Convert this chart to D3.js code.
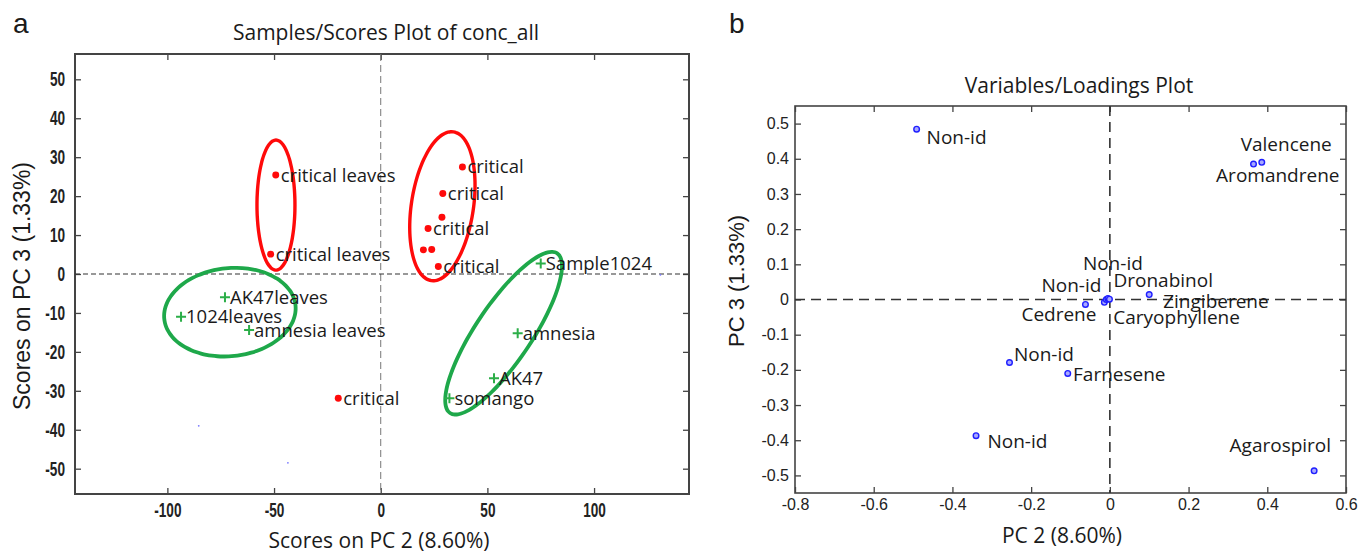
<!DOCTYPE html>
<html>
<head>
<meta charset="utf-8">
<script src="https://cdn.jsdelivr.net/npm/d3@7"></script>
<style>
  body { margin: 0; background: #fff; }
  svg { display: block; }
  .lbl { font-family: "Open Sans", sans-serif; fill: #1a1a1a; }
  .ttl { font-family: "Open Sans", sans-serif; fill: #1a1a1a; font-size: 21px; }
  .ytl { font-family: "Liberation Sans", Arial, sans-serif; fill: #1a1a1a; }
  .axA text { font-family: "Liberation Sans Narrow", "Arial Narrow", sans-serif; font-weight: bold; font-size: 20px; fill: #222; }
  .axB text { font-family: "Liberation Sans", Arial, sans-serif; font-size: 16px; fill: #222; }
</style>
</head>
<body>
<script>
// ---- panel a : scores ----
const scoreLabels = ['critical leaves', 'critical leaves', 'critical', 'critical', '', 'critical', '', '', 'critical', 'critical',
  'Sample1024', 'AK47leaves', '1024leaves', 'amnesia leaves', 'amnesia', 'AK47', 'somango']
const scorePC2 = [-49.2, -51.6, 38.3, 29.1, 28.7, 22.2, 20.0, 23.9, 27.0, -19.9,
  75.0, -73.0, -93.6, -61.7, 64.2, 53.1, 32.2]
const scorePC3 = [25.4, 5.1, 27.5, 20.7, 14.6, 11.7, 6.2, 6.3, 1.9, -31.9,
  2.7, -6.0, -11.0, -14.4, -15.2, -26.8, -31.9]
const scoreClass = ['critical', 'critical', 'critical', 'critical', 'critical', 'critical', 'critical', 'critical', 'critical', 'critical',
  'other', 'other', 'other', 'other', 'other', 'other', 'other']
// faint stray points
const strayPC2 = [-85.3, -43.5, 131.1]
const strayPC3 = [-39.0, -48.5, -0.2]

// group ellipses: centre + two conjugate semi-axes (data units)
const ellipseClass = ['critical', 'critical', 'other', 'other']
const ellipseCenterPC2 = [-49.1, 28.9, -70.7, 57.6]
const ellipseCenterPC3 = [17.7, 17.4, -9.8, -15.2]
const ellipseAxisA = [[0, 16.7], [5.2, 19.1], [30.75, 1.77], [25.1, 20.5]]
const ellipseAxisB = [[8.9, 0], [14.4, -1.18], [2.16, -11.25], [10.9, -4.0]]

const scoreXTicks = [-100, -50, 0, 50, 100]
const scoreYTicks = [-50, -40, -30, -20, -10, 0, 10, 20, 30, 40, 50]

// ---- panel b : loadings ----
const loadingNames = ['Non-id', 'Valencene', 'Aromandrene', 'Cedrene', 'Non-id', 'Caryophyllene', 'Non-id', 'Dronabinol',
  'Zingiberene', 'Non-id', 'Farnesene', 'Non-id', 'Agarospirol']
const loadingPC2 = [-0.491, 0.386, 0.365, -0.062, -0.014, -0.009, -0.005, -0.001, 0.100, -0.255, -0.107, -0.340, 0.519]
const loadingPC3 = [0.484, 0.390, 0.385, -0.014, -0.008, 0.000, 0.003, 0.001, 0.014, -0.179, -0.210, -0.387, -0.487]
const loadXTicks = [-0.8, -0.6, -0.4, -0.2, 0, 0.2, 0.4, 0.6]
const loadYTicks = [-0.5, -0.4, -0.3, -0.2, -0.1, 0, 0.1, 0.2, 0.3, 0.4, 0.5]

// label placement for panel b (anchor, dx, dy in px)
const loadLabelPos = [['start', 10, 15], ['end', 70, -11.6], ['end', 86, 18.3], ['end', 11, 17], ['end', -3, -10.7],
  ['start', 7, 24.3], ['start', -25, -28], ['start', 4, -12.3], ['start', 14, 13.3], ['start', 4.4, -1.7],
  ['start', 5.3, 7.3], ['start', 11.4, 12.7], ['end', 17, -19.3]]

const svg = d3.select('body').append('svg')
    .attr('width', 1359)
    .attr('height', 554)

function drawAxes(x, y, xTicks, yTicks, cls, padX, padY, frameW) {
    const [x0, x1] = x.range()
    const [y0, y1] = y.range()
    const g = svg.append('g').attr('class', cls)
    const fmt = d => String(d)
    g.append('g').attr('class', 'xb').attr('transform', `translate(0,${y0})`)
        .call(d3.axisBottom(x).tickValues(xTicks).tickFormat(fmt).tickSizeInner(-6).tickSizeOuter(0).tickPadding(padX))
    g.append('g').attr('transform', `translate(0,${y1})`)
        .call(d3.axisTop(x).tickValues(xTicks).tickFormat('').tickSizeInner(-6).tickSizeOuter(0))
    g.append('g').attr('class', 'yl').attr('transform', `translate(${x0},0)`)
        .call(d3.axisLeft(y).tickValues(yTicks).tickFormat(fmt).tickSizeInner(-6).tickSizeOuter(0).tickPadding(padY))
    g.append('g').attr('transform', `translate(${x1},0)`)
        .call(d3.axisRight(y).tickValues(yTicks).tickFormat('').tickSizeInner(-6).tickSizeOuter(0))
    g.selectAll('.domain').remove()
    g.selectAll('.tick line').attr('stroke', '#444').attr('stroke-width', 1.3)
    g.append('rect')
        .attr('x', x0).attr('y', y1)
        .attr('width', x1 - x0).attr('height', y0 - y1)
        .attr('fill', 'none')
        .attr('stroke', '#444')
        .attr('stroke-width', frameW)
    return g
}

// ===== panel a =====
const xA = d3.scaleLinear().domain([-143.3, 144.5]).range([75, 689])
const yA = d3.scaleLinear().domain([-56.5, 56.5]).range([494, 54])

const axA = drawAxes(xA, yA, scoreXTicks, scoreYTicks, 'axA', 9, 10, 2)
// condensed tick labels
axA.selectAll('.xb .tick text')
    .style('transform-box', 'fill-box').style('transform-origin', '50% 50%').style('transform', 'scaleX(0.68)')
axA.selectAll('.yl .tick text')
    .style('transform-box', 'fill-box').style('transform-origin', '100% 50%').style('transform', 'scaleX(0.68)')

const gA = svg.append('g')
gA.append('line')
    .attr('x1', xA(0)).attr('x2', xA(0))
    .attr('y1', yA.range()[1]).attr('y2', yA.range()[0])
    .attr('stroke', '#777').attr('stroke-width', 1).attr('stroke-dasharray', '7,4')
gA.append('line')
    .attr('x1', xA.range()[0]).attr('x2', xA.range()[1])
    .attr('y1', yA(0)).attr('y2', yA(0))
    .attr('stroke', '#333').attr('stroke-width', 1.2).attr('stroke-dasharray', '5,3')

const ellColor = { critical: '#ff0a0a', other: '#1ea84a' }
gA.selectAll('path.ell')
    .data(ellipseClass)
    .enter().append('path')
    .attr('class', 'ell')
    .attr('fill', 'none')
    .attr('stroke', d => ellColor[d])
    .attr('stroke-width', (d, i) => d === 'critical' ? 3.4 : 3.8)
    .attr('d', (d, i) => {
        const pts = d3.range(72).map(k => {
            const t = k / 72 * 2 * Math.PI
            const a = ellipseAxisA[i], b = ellipseAxisB[i]
            return [xA(ellipseCenterPC2[i] + a[0] * Math.cos(t) + b[0] * Math.sin(t)),
                yA(ellipseCenterPC3[i] + a[1] * Math.cos(t) + b[1] * Math.sin(t))]
        })
        return d3.line().curve(d3.curveCardinalClosed)(pts)
    })

gA.selectAll('circle.stray')
    .data(strayPC2)
    .enter().append('circle')
    .attr('cx', d => xA(d))
    .attr('cy', (d, i) => yA(strayPC3[i]))
    .attr('r', 0.9)
    .attr('fill', '#7a7aff')

const scoreIdx = d3.range(scoreLabels.length)
gA.selectAll('.mk')
    .data(scoreIdx)
    .enter().append('path')
    .attr('class', 'mk')
    .attr('transform', i => `translate(${xA(scorePC2[i])},${yA(scorePC3[i])})`)
    .attr('d', i => scoreClass[i] === 'critical'
        ? d3.symbol(d3.symbolCircle, 38)()
        : 'M-5,0H5M0,-5V5')
    .attr('fill', i => scoreClass[i] === 'critical' ? '#ff0a0a' : 'none')
    .attr('stroke', i => scoreClass[i] === 'critical' ? 'none' : '#2cae48')
    .attr('stroke-width', 2)

gA.selectAll('text.lbl')
    .data(scoreIdx.filter(i => scoreLabels[i] !== ''))
    .enter().append('text')
    .attr('class', 'lbl')
    .attr('x', i => xA(scorePC2[i]) + 5)
    .attr('y', i => yA(scorePC3[i]) + 6.5)
    .attr('font-size', 18.5)
    .text(i => scoreLabels[i])

svg.append('text').attr('class', 'ttl').attr('x', 386).attr('y', 40).attr('text-anchor', 'middle')
    .text('Samples/Scores Plot of conc_all')
svg.append('text').attr('class', 'ttl').attr('x', 379).attr('y', 548).attr('text-anchor', 'middle')
    .text('Scores on PC 2 (8.60%)')
svg.append('text').attr('class', 'ytl').attr('font-size', 23)
    .attr('transform', 'translate(30,410) rotate(-90)')
    .text('Scores on PC 3 (1.33%)')

// ===== panel b =====
const xB = d3.scaleLinear().domain([-0.8, 0.6]).range([795, 1346])
const yB = d3.scaleLinear().domain([-0.55, 0.55]).range([493, 106])

drawAxes(xB, yB, loadXTicks, loadYTicks, 'axB', 6, 6, 1.6)

const gB = svg.append('g')
gB.append('line')
    .attr('x1', xB(0)).attr('x2', xB(0))
    .attr('y1', yB.range()[1]).attr('y2', yB.range()[0])
    .attr('stroke', '#333').attr('stroke-width', 1.6).attr('stroke-dasharray', '10,6')
gB.append('line')
    .attr('x1', xB.range()[0]).attr('x2', xB.range()[1])
    .attr('y1', yB(0)).attr('y2', yB(0))
    .attr('stroke', '#333').attr('stroke-width', 1.6).attr('stroke-dasharray', '10,6')

const loadIdx = d3.range(loadingNames.length)
gB.selectAll('circle.ld')
    .data(loadIdx)
    .enter().append('circle')
    .attr('class', 'ld')
    .attr('cx', i => xB(loadingPC2[i]))
    .attr('cy', i => yB(loadingPC3[i]))
    .attr('r', 2.8)
    .attr('fill', '#a8a8ff')
    .attr('stroke', '#1f1fff')
    .attr('stroke-width', 1.4)

gB.selectAll('text.lbl')
    .data(loadIdx)
    .enter().append('text')
    .attr('class', 'lbl')
    .attr('font-size', 19)
    .attr('text-anchor', i => loadLabelPos[i][0])
    .attr('x', i => xB(loadingPC2[i]) + loadLabelPos[i][1])
    .attr('y', i => yB(loadingPC3[i]) + loadLabelPos[i][2])
    .text(i => loadingNames[i])

svg.append('text').attr('class', 'ttl').attr('x', 1079).attr('y', 93).attr('text-anchor', 'middle')
    .text('Variables/Loadings Plot')
svg.append('text').attr('class', 'ttl').attr('x', 1062).attr('y', 543).attr('text-anchor', 'middle')
    .text('PC 2 (8.60%)')
svg.append('text').attr('class', 'ytl').attr('font-size', 22)
    .attr('transform', 'translate(744,347) rotate(-90)')
    .text('PC 3 (1.33%)')

// panel letters
svg.append('text').attr('class', 'ytl').attr('font-size', 28).attr('x', 13).attr('y', 33).text('a')
svg.append('text').attr('class', 'ytl').attr('font-size', 28).attr('x', 729).attr('y', 33).text('b')
</script>
</body>
</html>
